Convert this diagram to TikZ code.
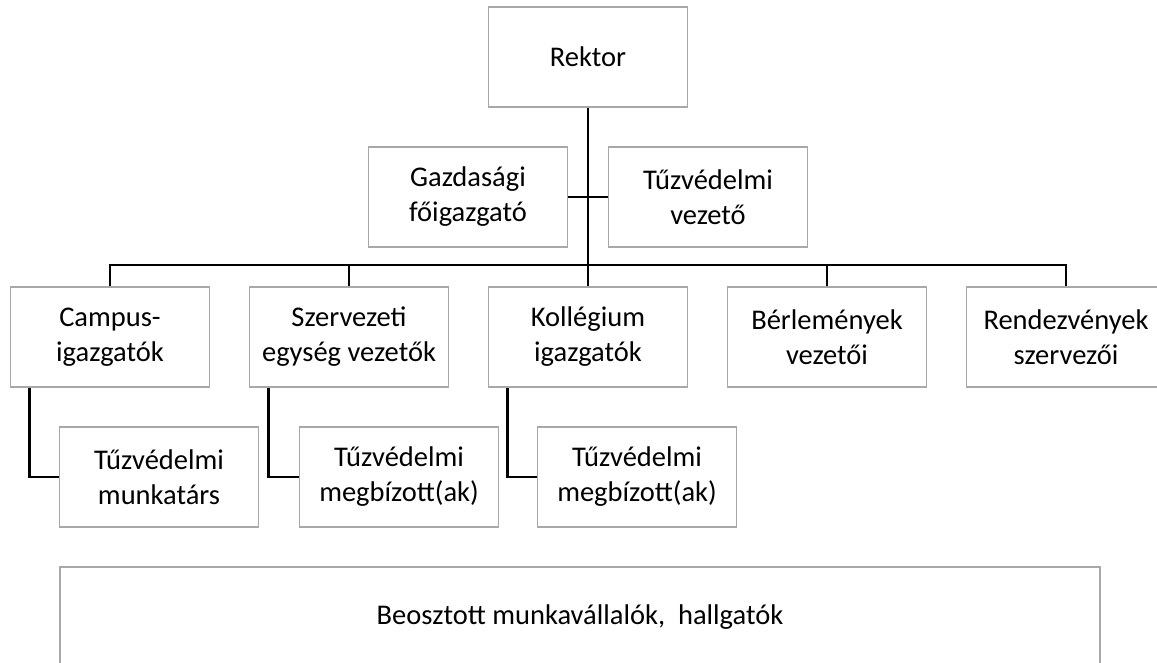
\documentclass[tikz,border=0pt]{standalone}
\usepackage{fontspec}
\setmainfont{Carlito}
\usepackage{tikz}
\usetikzlibrary{positioning}
\definecolor{boxgray}{RGB}{168,168,168}

\begin{document}
\begin{tikzpicture}[x=1pt, y=-1pt,
    box/.style={draw=boxgray, line width=1.6pt, fill=white, align=center,
        minimum width=199pt, minimum height=100pt, inner sep=0pt,
        font=\fontsize{28.5}{35}\selectfont},
    link/.style={line width=2.6pt, black}]
                        \useasboundingbox (0, 0) rectangle (1157, 663);

                        \node[box] (r) at (588, 57) {Rektor};
                        \node[box] (g) at (468, 197) {Gazdasági\\főigazgató};
                        \node[box] (t) at (708, 197) {Tűzvédelmi\\vezető};

                        \node[box] (c) at (110, 337) {Campus-\\igazgatók};
                        \node[box] (s) at (349, 337) {Szervezeti\\egység vezetők};
                        \node[box] (k) at (588, 337) {Kollégium\\igazgatók};
                        \node[box] (b) at (827, 337) {Bérlemények\\vezetői};
                        \node[box] (rd) at (1066, 337) {Rendezvények\\szervezői};

                        \node[box] (cm) at (159, 477) {Tűzvédelmi\\munkatárs};
                        \node[box] (sm) at (399, 477) {Tűzvédelmi\\megbízott(ak)};
                        \node[box] (km) at (637, 477) {Tűzvédelmi\\megbízott(ak)};

                        \node[box, minimum width=1040pt] (h) at (580, 617) {Beosztott munkavállalók,~ hallgatók};

                        \draw[link]
                        (r) -- (k)
                        (g) -- (t)
                        (c.north) -- ++(0, -21) -| (rd.north)
                        (s.north) -- ++(0, -21)
                        (b.north) -- ++(0, -21)
                        ([xshift=20pt]c.south west) |- (cm.west)
                        ([xshift=20pt]s.south west) |- (sm.west)
                        ([xshift=20pt]k.south west) |- (km.west);
                    \end{tikzpicture}
\end{document}
